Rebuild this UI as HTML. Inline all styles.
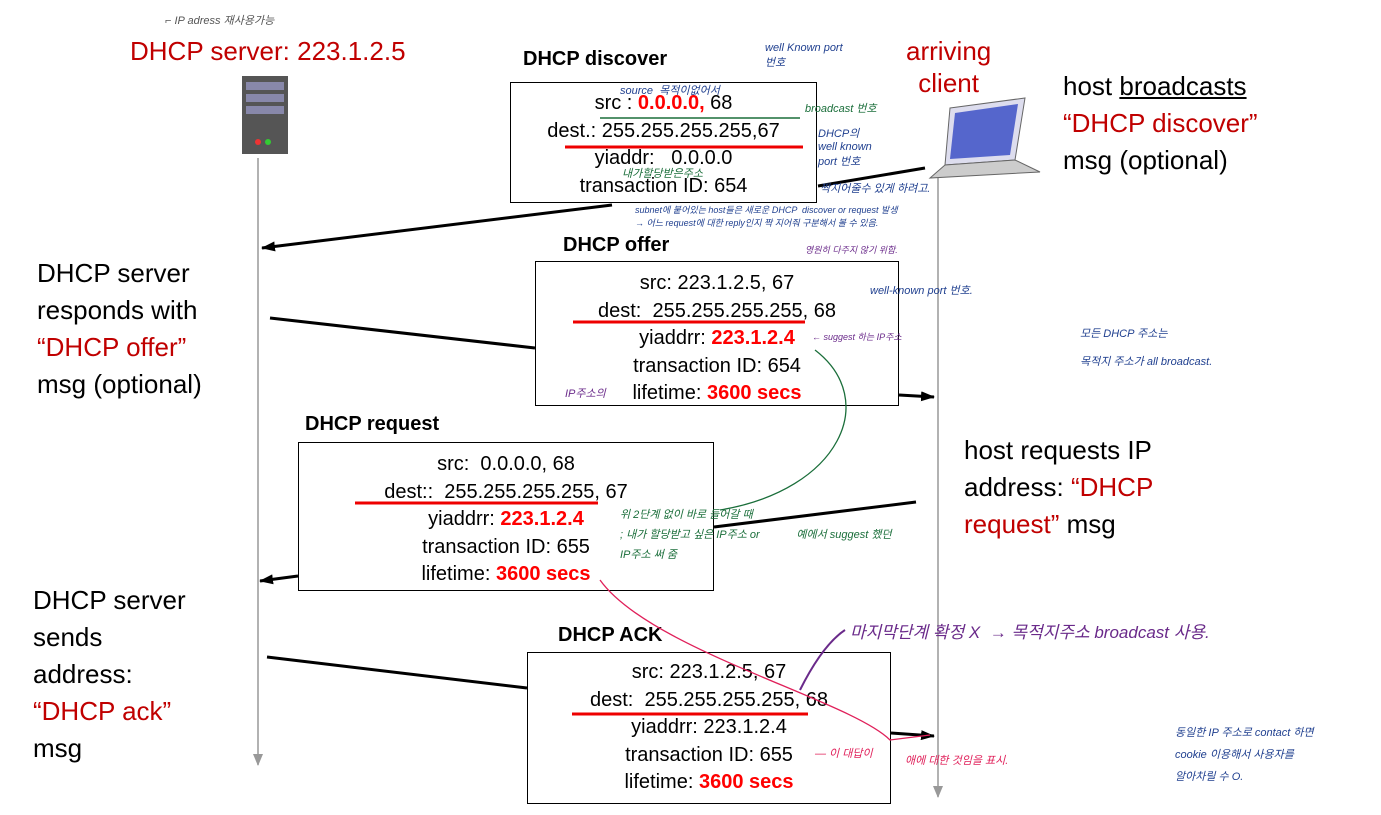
<!DOCTYPE html>
<html><head><meta charset="utf-8"><style>
body{margin:0;background:#fff;width:1381px;height:815px;overflow:hidden;font-family:"Liberation Sans","Noto Sans CJK KR",sans-serif}
svg{position:absolute;left:0;top:0}
.t{position:absolute;white-space:nowrap;font-size:26px;line-height:37px;color:#000}
.r{color:#c00000}
.box{position:absolute;border:1.5px solid #000;background:#fff;font-size:20px;text-align:center;line-height:27.5px}
.ttl{position:absolute;font-weight:bold;font-size:20px}
.red{color:#ff0000;font-weight:bold}
.h{position:absolute;font-size:11px;white-space:nowrap;font-style:italic}
.b{color:#1f3f8f}.g{color:#1a6e3a}.p{color:#6a2a8a}.pk{color:#e0205a}
</style></head><body>
<svg width="1381" height="815">
<defs><marker id="a" markerUnits="userSpaceOnUse" markerWidth="14" markerHeight="10" refX="13" refY="5" orient="auto"><path d="M0,0 L14,5 L0,10z" fill="#000"/></marker>
<marker id="ag" markerUnits="userSpaceOnUse" markerWidth="10" markerHeight="12" refX="5" refY="11" orient="0"><path d="M0,0 L10,0 L5,12z" fill="#999"/></marker></defs>
<line x1="258" y1="158" x2="258" y2="765" stroke="#999" stroke-width="1.5"/>
<path d="M253,754 L263,754 L258,766z" fill="#999"/>
<line x1="938" y1="175" x2="938" y2="797" stroke="#999" stroke-width="1.5"/>
<path d="M933,786 L943,786 L938,798z" fill="#999"/>
<line x1="612" y1="205" x2="262" y2="248" stroke="#000" stroke-width="3" marker-end="url(#a)"/>
<line x1="925" y1="168" x2="818" y2="186" stroke="#000" stroke-width="3"/>
<line x1="270" y1="318" x2="535" y2="348" stroke="#000" stroke-width="3"/>
<line x1="899" y1="395" x2="934" y2="397" stroke="#000" stroke-width="3" marker-end="url(#a)"/>
<line x1="916" y1="502" x2="714" y2="527" stroke="#000" stroke-width="3"/>
<line x1="298" y1="576" x2="260" y2="581" stroke="#000" stroke-width="3" marker-end="url(#a)"/>
<line x1="267" y1="657" x2="527" y2="688" stroke="#000" stroke-width="3"/>
<line x1="891" y1="733" x2="934" y2="736" stroke="#000" stroke-width="3" marker-end="url(#a)"/>
<rect x="242" y="76" width="46" height="78" fill="#555"/>
<rect x="246" y="82" width="38" height="8" fill="#88a"/><rect x="246" y="94" width="38" height="8" fill="#88a"/><rect x="246" y="106" width="38" height="8" fill="#88a"/>
<circle cx="258" cy="142" r="3" fill="#e33"/><circle cx="268" cy="142" r="3" fill="#3c3"/>
<polygon points="950,108 1025,98 1015,160 945,165" fill="#dde" stroke="#666"/>
<polygon points="955,113 1018,104 1010,155 950,159" fill="#5566cc"/>
<polygon points="945,165 1015,160 1040,172 930,178" fill="#ccc" stroke="#666"/>
</svg>
<div class="t r" style="left:130px;top:33px">DHCP server: 223.1.2.5</div>
<div class="h b" style="left:165px;top:12px;color:#555">⌐ IP adress 재사용가능</div>
<div class="t" style="left:37px;top:255px">DHCP server<br>responds with<br><span class="r">“DHCP offer”</span><br>msg (optional)</div>
<div class="t" style="left:33px;top:582px">DHCP server<br>sends<br>address:<br><span class="r">“DHCP ack”</span><br>msg</div>
<div class="t r" style="left:906px;top:35px;text-align:center;line-height:32px">arriving<br>client</div>
<div class="t" style="left:1063px;top:68px">host <u>broadcasts</u><br><span class="r">“DHCP discover”</span><br>msg (optional)</div>
<div class="t" style="left:964px;top:432px">host requests IP<br>address: <span class="r">“DHCP</span><br><span class="r">request”</span> msg</div>

<div class="ttl" style="left:523px;top:48px">DHCP discover</div>
<div class="box" style="left:510px;top:82px;width:307px;height:121px;padding-top:7px;box-sizing:border-box">
src : <span class="red">0.0.0.0,</span> 68<br>dest.: 255.255.255.255,67<br>yiaddr: &nbsp;&nbsp;0.0.0.0<br>transaction ID: 654</div>
<div class="ttl" style="left:563px;top:234px">DHCP offer</div>
<div class="box" style="left:535px;top:261px;width:364px;height:145px;padding-top:8px;box-sizing:border-box">
src: 223.1.2.5, 67<br>dest: &nbsp;255.255.255.255, 68<br>yiaddrr: <span class="red">223.1.2.4</span><br>transaction ID: 654<br>lifetime: <span class="red">3600 secs</span></div>
<div class="ttl" style="left:305px;top:413px">DHCP request</div>
<div class="box" style="left:298px;top:442px;width:416px;height:149px;padding-top:8px;box-sizing:border-box">
src: &nbsp;0.0.0.0, 68<br>dest:: &nbsp;255.255.255.255, 67<br>yiaddrr: <span class="red">223.1.2.4</span><br>transaction ID: 655<br>lifetime: <span class="red">3600 secs</span></div>
<div class="ttl" style="left:558px;top:624px">DHCP ACK</div>
<div class="box" style="left:527px;top:652px;width:364px;height:152px;padding-top:6px;box-sizing:border-box">
src: 223.1.2.5, 67<br>dest: &nbsp;255.255.255.255, 68<br>yiaddrr: 223.1.2.4<br>transaction ID: 655<br>lifetime: <span class="red">3600 secs</span></div>

<svg width="1381" height="815" style="pointer-events:none">
<g stroke="#e00" stroke-width="3"><line x1="565" y1="147" x2="803" y2="147"/><line x1="573" y1="322" x2="805" y2="322"/><line x1="355" y1="503" x2="598" y2="503"/><line x1="572" y1="714" x2="808" y2="714"/></g>
<line x1="600" y1="118" x2="800" y2="118" stroke="#1a6e3a" stroke-width="1.5"/>
<path d="M720,510 C840,490 880,400 815,350" fill="none" stroke="#1a6e3a" stroke-width="1.3"/>
<path d="M600,580 C650,650 850,700 890,740 L930,735" fill="none" stroke="#e0205a" stroke-width="1.3"/>
<path d="M800,690 C815,660 830,640 845,630" fill="none" stroke="#6a2a8a" stroke-width="2"/>
</svg>
<div class="h b" style="left:765px;top:42px">well Known port<br>번호</div>
<div class="h b" style="left:620px;top:82px">source &nbsp;목적이없어서</div>
<div class="h g" style="left:805px;top:100px">broadcast 번호</div>
<div class="h b" style="left:818px;top:125px">DHCP의<br>well known<br>port 번호</div>
<div class="h g" style="left:622px;top:165px">내가할당받은주소</div>
<div class="h b" style="left:820px;top:180px">짝지어줄수 있게 하려고.</div>
<div class="h b" style="left:635px;top:203px;font-size:9px">subnet에 붙어있는 host들은 새로운 DHCP &nbsp;discover or request 발생<br>→ 어느 request에 대한 reply인지 짝 지어줘 구분해서 볼 수 있음.</div>
<div class="h p" style="left:805px;top:243px;font-size:9px">영원히 다주지 않기 위함.</div>
<div class="h b" style="left:870px;top:282px">well-known port 번호.</div>
<div class="h p" style="left:812px;top:330px;font-size:9px">← suggest 하는 IP주소</div>
<div class="h b" style="left:1080px;top:325px">모든 DHCP 주소는<br><br>목적지 주소가 all broadcast.</div>
<div class="h p" style="left:565px;top:385px">IP주소의</div>
<div class="h g" style="left:620px;top:505px;line-height:20px">위 2단계 없이 바로 들어갈 때<br>; 내가 할당받고 싶은 IP주소 or &nbsp;&nbsp;&nbsp;&nbsp;&nbsp;&nbsp;&nbsp;&nbsp;&nbsp;&nbsp;&nbsp;예에서 suggest 했던<br>IP주소 써 줌</div>
<div class="h p" style="left:850px;top:618px;font-size:17px">마지막단계 확정 X &nbsp;→ 목적지주소 broadcast 사용.</div>
<div class="h pk" style="left:815px;top:745px">— 이 대답이</div>
<div class="h pk" style="left:905px;top:752px">애에 대한 것임을 표시.</div>
<div class="h b" style="left:1175px;top:722px;line-height:22px">동일한 IP 주소로 contact 하면<br>cookie 이용해서 사용자를<br>알아차릴 수 O.</div>
</body></html>
